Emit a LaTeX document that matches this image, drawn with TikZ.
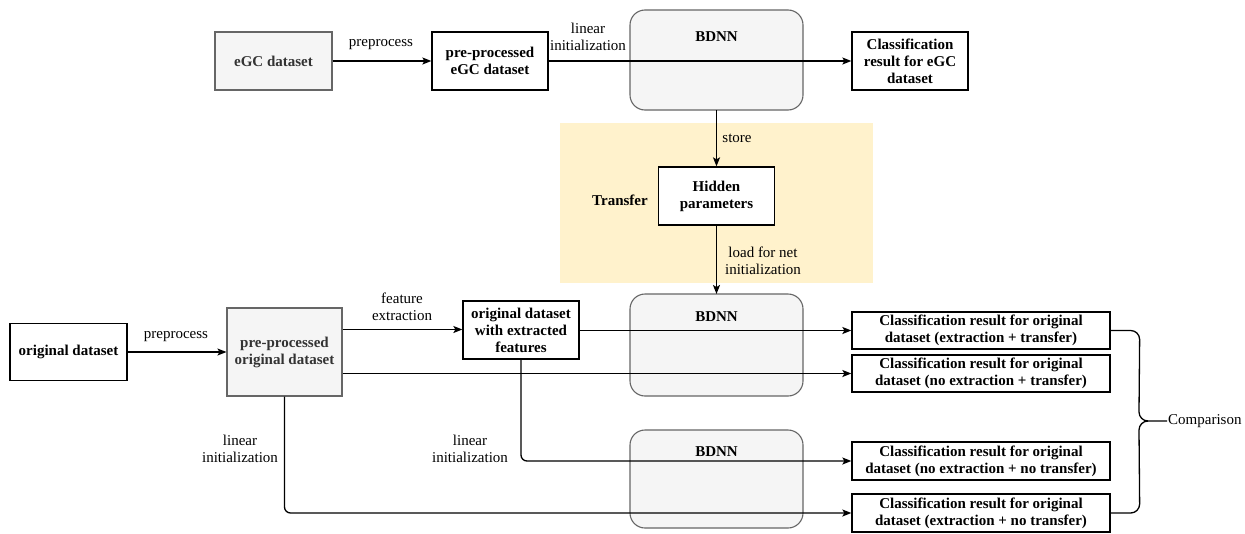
\documentclass[tikz,border=0pt]{standalone}
\usepackage{fontspec}
\setmainfont{Liberation Serif}
\usetikzlibrary{arrows.meta}
\definecolor{grayfill}{HTML}{F5F5F5}
\definecolor{graydraw}{HTML}{666666}
\definecolor{graytext}{HTML}{333333}
\definecolor{transferbg}{HTML}{FFF2CC}
\tikzset{
  base/.style={font=\fontsize{15}{17}\selectfont\bfseries, align=center, inner sep=2pt},
  whitebox/.style={base, draw=black, line width=1.3pt, fill=white},
  graybox/.style={base, draw=graydraw, line width=1.1pt, fill=grayfill, text=graytext},
  netbox/.style={draw=graydraw, line width=1.1pt, fill=grayfill, rounded corners=15pt},
  netlabel/.style={base, text=black},
  lbl/.style={font=\fontsize{15}{17}\selectfont, align=center, inner sep=1pt},
  conn/.style={line width=1.3pt, -{Stealth[length=9pt,width=7pt,inset=2pt]}},
  plain/.style={line width=1.3pt},
}
\begin{document}
\begin{tikzpicture}[x=1pt,y=-1pt]
\useasboundingbox (0,0) rectangle (1245,533);
% transfer background
\fill[transferbg] (560,123) rectangle (873,283);
% BDNN boxes
\draw[netbox] (630,10) rectangle (803,110);
\node[netlabel] (bdnnA) at (716.5,37) {BDNN};
\draw[netbox] (630,294) rectangle (803,396);
\node[netlabel] (bdnnB) at (716.5,317) {BDNN};
\draw[netbox] (630,430) rectangle (803,528);
\node[netlabel] (bdnnC) at (716.5,452) {BDNN};
\coordinate (bdnnAbot) at (716.5,110);
\coordinate (bdnnBtop) at (716.5,294);
% top row
\node[graybox, minimum width=117pt, minimum height=58pt] (egc) at (273.5,61) {eGC dataset};
\node[whitebox, minimum width=116pt, minimum height=58pt] (ppegc) at (490,61) {pre-processed\\eGC dataset};
\node[whitebox, minimum width=116pt, minimum height=58pt] (cls0) at (910,61) {Classification\\result for eGC\\dataset};
% transfer
\node[whitebox, minimum width=116pt, minimum height=58pt] (hidden) at (716.5,196) {Hidden\\parameters};
\node[base] (transfer) at (620,200) {Transfer};
% bottom part
\node[whitebox, minimum width=117pt, minimum height=57pt] (orig) at (68.5,352) {original dataset};
\node[graybox, minimum width=115pt, minimum height=88pt] (pporig) at (284.5,352) {pre-processed\\original dataset};
\node[whitebox, minimum width=116pt, minimum height=58pt] (feat) at (521,330) {original dataset\\with extracted\\features};
\node[whitebox, minimum width=258pt, minimum height=37pt] (c1) at (981,330.5) {Classification result for original\\dataset (extraction + transfer)};
\node[whitebox, minimum width=258pt, minimum height=37pt] (c2) at (981,373.5) {Classification result for original\\dataset (no extraction + transfer)};
\node[whitebox, minimum width=258pt, minimum height=38pt] (c3) at (981,461) {Classification result for original\\dataset (no extraction + no transfer)};
\node[whitebox, minimum width=258pt, minimum height=38pt] (c4) at (981,513) {Classification result for original\\dataset (extraction + no transfer)};
\node[lbl, anchor=west] (cmp) at (1167,421) {Comparison};
% connectors
\draw[conn] (egc.east) -- (ppegc.west);
\node[lbl] (lpre1) at (381,45) {preprocess};
\draw[conn] (ppegc.east) -- (cls0.west);
\node[lbl] (llin1) at (588,37) {linear\\initialization};
\draw[conn] (bdnnAbot) -- (hidden.north);
\node[lbl] (lstore) at (737,138) {store};
\draw[conn] (hidden.south) -- (bdnnBtop);
\node[lbl] (lload) at (763,261) {load for net\\initialization};
\draw[conn] (orig.east) -- (pporig.west |- orig.east);
\node[lbl] (lpre2) at (176,337) {preprocess};
\draw[conn] (pporig.east |- 0,329.5) -- (feat.west |- 0,329.5);
\node[lbl] (lfeat) at (402,307) {feature\\extraction};
\draw[conn] (feat.east |- c1.west) -- (c1.west);
\draw[conn] (pporig.east |- c2.west) -- (c2.west);
\draw[conn, rounded corners=6pt] (feat.south) -- (feat.south |- c3.west) -- (c3.west);
\draw[conn, rounded corners=6pt] (pporig.south) -- (pporig.south |- c4.west) -- (c4.west);
\node[lbl] (llin2) at (240,449) {linear\\initialization};
\node[lbl] (llin3) at (470,449) {linear\\initialization};
% comparison brace
\draw[plain] (c1.east) -- ++(20,0) to[out=0,in=90] ++(9,9) -- (1139,412) to[out=-90,in=180] (1148,421) -- (cmp.west);
\draw[plain] (c4.east) -- ++(20,0) to[out=0,in=-90] ++(9,-9) -- (1139,430) to[out=90,in=180] (1148,421);
\end{tikzpicture}
\end{document}
